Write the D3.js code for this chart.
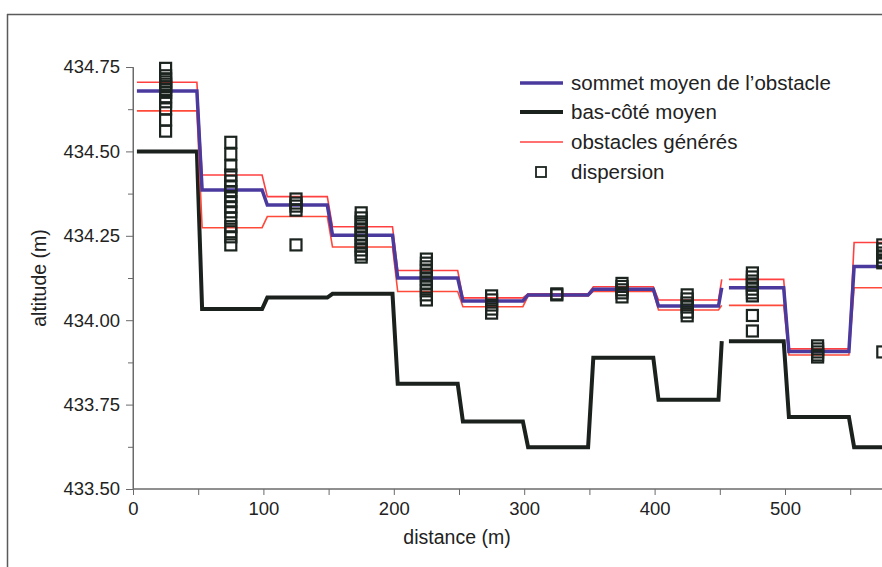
<!DOCTYPE html>
<html><head><meta charset="utf-8">
<script src="https://cdn.jsdelivr.net/npm/d3@7"></script>
<style>
html,body{margin:0;padding:0;background:#fff;}
svg{display:block;font-family:"Liberation Sans",Arial,sans-serif;}
</style></head>
<body>
<svg id="chart" width="882" height="567"></svg>
<script>
// ---- data ----
const segStarts = [0, 50, 100, 150, 200, 250, 300, 350, 400, 450, 500, 550];
const sommetMoyen = [434.679, 434.386, 434.341, 434.252, 434.125, 434.057, 434.075, 434.092, 434.042, 434.096, 433.907, 434.159];
const basCoteMoyen = [434.500, 434.033, 434.067, 434.078, 433.812, 433.700, 433.624, 433.889, 433.764, 433.938, 433.713, 433.624];
const obstaclesHaut = [434.705, 434.430, 434.366, 434.277, 434.147, 434.066, 434.078, 434.099, 434.060, 434.121, 433.915, 434.230];
const obstaclesBas = [434.620, 434.274, 434.307, 434.217, 434.085, 434.040, 434.072, 434.085, 434.030, 434.044, 433.897, 434.096];
const dispersion = [
  [434.746, 434.724, 434.715, 434.706, 434.699, 434.691, 434.683, 434.675, 434.662, 434.647, 434.626, 434.593, 434.560],
  [434.527, 434.492, 434.457, 434.430, 434.412, 434.395, 434.381, 434.366, 434.351, 434.336, 434.321, 434.302, 434.277, 434.262, 434.247, 434.223],
  [434.359, 434.347, 434.338, 434.326, 434.223],
  [434.318, 434.303, 434.291, 434.279, 434.267, 434.255, 434.244, 434.232, 434.220, 434.208, 434.196, 434.187],
  [434.181, 434.169, 434.158, 434.146, 434.134, 434.122, 434.110, 434.098, 434.087, 434.075, 434.060],
  [434.072, 434.060, 434.045, 434.033, 434.021],
  [434.078, 434.075],
  [434.109, 434.100, 434.090, 434.081, 434.069],
  [434.075, 434.063, 434.051, 434.039, 434.024, 434.013],
  [434.140, 434.128, 434.116, 434.104, 434.092, 434.081, 434.072, 434.014, 433.968],
  [433.924, 433.915, 433.906, 433.897, 433.891],
  [434.223, 434.211, 434.199, 434.187, 434.175, 434.170, 433.906]
];
const breakSegment = 9; // lines are interrupted just after 450 m
const xTicks = [0, 100, 200, 300, 400, 500];
const xMinorTicks = [50, 150, 250, 350, 450, 550];
const yTicks = [433.50, 433.75, 434.00, 434.25, 434.50, 434.75];
const yMinorTicks = [433.625, 433.875, 434.125, 434.375, 434.625];
const legendItems = ["sommet moyen de l\u2019obstacle", "bas-côté moyen", "obstacles générés", "dispersion"];

// ---- drawing ----
const svg = d3.select("#chart");
const x = d3.scaleLinear().domain([0, 600]).range([133, 133 + 600 * 1.304]);
const y = d3.scaleLinear().domain([433.5, 434.75]).range([489, 67]);

// frame
svg.append("line").attr("x1", 7).attr("x2", 882).attr("y1", 14.5).attr("y2", 14.5)
  .attr("stroke", "#5a5a5a").attr("stroke-width", 1.5);
svg.append("line").attr("x1", 7.5).attr("x2", 7.5).attr("y1", 14).attr("y2", 567)
  .attr("stroke", "#5a5a5a").attr("stroke-width", 1.5);

const axisColor = "#6a6a6a";
// y axis
const gy = svg.append("g").attr("transform", `translate(${x(0)},0)`);
gy.call(d3.axisLeft(y).tickValues(yTicks).tickFormat(d3.format(".2f")).tickSize(7).tickPadding(6));
gy.append("g").call(d3.axisLeft(y).tickValues(yMinorTicks).tickFormat("").tickSize(5));
gy.selectAll(".domain").attr("stroke", axisColor);
gy.selectAll(".tick line").attr("stroke", axisColor);
gy.selectAll(".tick text").attr("font-size", 18.5).attr("fill", "#222")
  .attr("font-family", "'Liberation Sans',Arial,sans-serif");
gy.select(".domain").attr("d", `M-0,${y(433.5)}V${y(434.75)}`);

// x axis
const gx = svg.append("g").attr("transform", `translate(0,${y(433.5)})`);
gx.call(d3.axisBottom(x).tickValues(xTicks).tickFormat(d3.format("d")).tickSize(6).tickPadding(7));
gx.append("g").call(d3.axisBottom(x).tickValues(xMinorTicks).tickFormat("").tickSize(6));
gx.selectAll(".domain").attr("stroke", axisColor);
gx.selectAll(".tick line").attr("stroke", axisColor);
gx.selectAll(".tick text").attr("font-size", 18.5).attr("fill", "#222")
  .attr("font-family", "'Liberation Sans',Arial,sans-serif");
gx.selectAll(".domain").attr("d", `M${x(0)},0H882`);

// axis titles
svg.append("text").attr("x", 457).attr("y", 544).attr("text-anchor", "middle")
  .attr("font-size", 19.5).attr("fill", "#222").text("distance (m)");
svg.append("text").attr("transform", "translate(46,278) rotate(-90)").attr("text-anchor", "middle")
  .attr("font-size", 19.5).attr("fill", "#222").text("altitude (m)");

// step line generator
function stepPoints(vals) {
  const pts = [];
  vals.forEach((v, i) => {
    const a = segStarts[i];
    if (i === breakSegment) {
      pts.push({ x: a + 1.5, y: v });
      pts.push(null);
      pts.push({ x: a + 7, y: v });
    } else {
      pts.push({ x: a + 3, y: v });
    }
    pts.push({ x: a + 49, y: v });
  });
  return pts;
}
const line = d3.line().defined(d => d !== null).x(d => x(d.x)).y(d => y(d.y));

const plot = svg.append("g");
plot.append("path").attr("d", line(stepPoints(basCoteMoyen))).attr("fill", "none")
  .attr("stroke", "#1b211d").attr("stroke-width", 4).attr("stroke-linejoin", "miter");
plot.append("path").attr("d", line(stepPoints(obstaclesHaut))).attr("fill", "none")
  .attr("stroke", "#ff4040").attr("stroke-width", 1.6);
plot.append("path").attr("d", line(stepPoints(obstaclesBas))).attr("fill", "none")
  .attr("stroke", "#ff4a3a").attr("stroke-width", 1.6);
plot.append("path").attr("d", line(stepPoints(sommetMoyen))).attr("fill", "none")
  .attr("stroke", "#4b3a9e").attr("stroke-width", 3.5);

// dispersion squares
const sq = 11;
dispersion.forEach((vals, i) => {
  plot.selectAll(null).data(vals).enter().append("rect")
    .attr("x", x(segStarts[i] + 25) - sq / 2)
    .attr("y", d => y(d) - sq / 2)
    .attr("width", sq).attr("height", sq)
    .attr("fill", "none").attr("stroke", "#1b241f").attr("stroke-width", 2.2);
});

// legend
const lg = svg.append("g");
const rowY = [83, 112, 142, 172];
const sampleStyles = [
  { c: "#4b3a9e", w: 3.5 },
  { c: "#1b211d", w: 4 },
  { c: "#ff4040", w: 1.3 }
];
legendItems.forEach((t, i) => {
  if (i < 3) {
    lg.append("line").attr("x1", 520).attr("x2", 563).attr("y1", rowY[i]).attr("y2", rowY[i])
      .attr("stroke", sampleStyles[i].c).attr("stroke-width", sampleStyles[i].w);
  } else {
    lg.append("rect").attr("x", 536).attr("y", rowY[i] - 5).attr("width", 10).attr("height", 10)
      .attr("fill", "none").attr("stroke", "#1b241f").attr("stroke-width", 1.8);
  }
  lg.append("text").attr("x", 571).attr("y", rowY[i] + 7).attr("font-size", 20.5)
    .attr("fill", "#222").text(t);
});
</script>
</body></html>
